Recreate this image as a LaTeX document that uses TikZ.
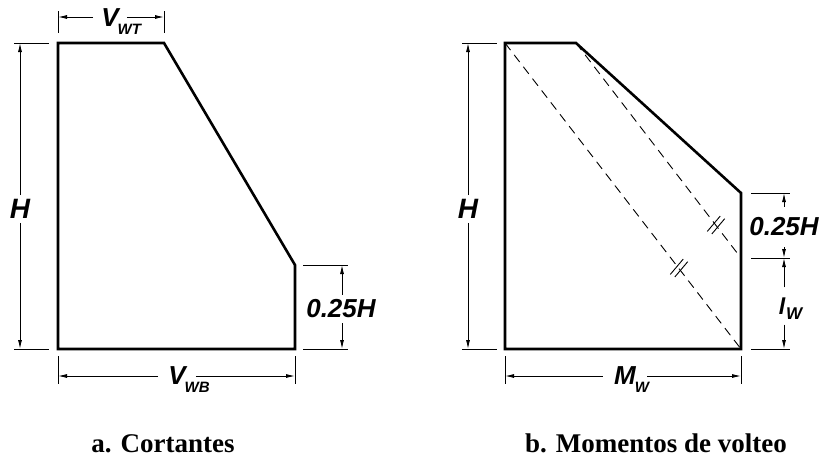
\documentclass[tikz,border=0pt]{standalone}
\usepackage{fontspec}
\setmainfont{Liberation Serif}
\newfontfamily\labfont{Liberation Sans}
\usetikzlibrary{arrows.meta}
\newcommand\subl[3]{\rlap{\kern#1pt\raisebox{-#2pt}[0pt][0pt]{\fontsize{15}{15}\selectfont #3}}}
\begin{document}
\begin{tikzpicture}[x=1pt,y=-1pt,
  outline/.style={line width=2.6pt, line join=miter},
  ext/.style={line width=0.9pt},
  dim/.style={line width=0.9pt, -{Latex[length=9pt,width=4pt]}},
  lab/.style={font=\labfont\bfseries\itshape\fontsize{26}{26}\selectfont, inner sep=0pt},
  labH/.style={font=\labfont\bfseries\itshape\fontsize{28}{28}\selectfont, inner xsep=0pt, inner ysep=4pt},
  caption/.style={font=\bfseries\fontsize{27}{27}\selectfont, inner sep=0pt, anchor=base},
  hid/.style={line width=0.9pt, dash pattern=on 9pt off 6pt},
  tickmark/.style={line width=0.9pt}]
\useasboundingbox (0,0) rectangle (824,463);

% ---------- a. Cortantes ----------
\coordinate (a1) at (58,43);
\coordinate (a2) at (164,43);
\coordinate (a3) at (295,265);
\coordinate (a4) at (295,349);
\coordinate (a5) at (58,349);
\draw[outline] (a1) -- (a2) -- (a3) -- (a4) -- (a5) -- cycle;

% H (left)
\draw[ext] (14,43) -- (49,43);
\draw[ext] (14,349) -- (49,349);
\coordinate (hLt) at (20,43);
\coordinate (hLb) at (20,349);
\node[labH] (hL) at (20,209) {H};
\draw[dim] (hL.north) -- (hLt);
\draw[dim] (hL.south) -- (hLb);

% V_WT
\draw[ext] (58,11) -- (58,33);
\draw[ext] (164,11) -- (164,33);
\coordinate (vtl) at (58,17);
\coordinate (vtr) at (164,17);
\node[lab, inner xsep=8pt] (vwt) at (110,18) {V\subl{-1}{8}{WT}};
\draw[dim] (vwt.west |- vtl) -- (vtl);
\draw[dim] (vwt.east |- vtr) -- (vtr);

% 0.25H (left)
\draw[ext] (303,265) -- (348,265);
\draw[ext] (303,349) -- (348,349);
\coordinate (q1t) at (342,265);
\coordinate (q1b) at (342,349);
\node[lab, inner ysep=5pt] (q1) at (341,309) {0.25H};
\draw[dim] (q1.north -| q1t) -- (q1t);
\draw[dim] (q1.south -| q1b) -- (q1b);

% V_WB
\draw[ext] (58,356) -- (58,384);
\draw[ext] (295,356) -- (295,384);
\coordinate (vbl) at (58,376);
\coordinate (vbr) at (295,376);
\node[lab, inner xsep=10pt] (vwb) at (177,376) {V\subl{-1}{8}{WB}};
\draw[dim] (vwb.west |- vbl) -- (vbl);
\draw[dim] (vwb.east |- vbr) -- (vbr);

\node[caption] (ca) at (163,452) {a. Cortantes};

% ---------- b. Momentos de volteo ----------
\coordinate (b1) at (505,43);
\coordinate (b2) at (576,43);
\coordinate (b3) at (741,193);
\coordinate (b4) at (741,349);
\coordinate (b5) at (505,349);
\coordinate (b6) at (741,258);
\draw[hid] (b1) -- (b4);
\draw[hid] (b2) -- (b6);
\draw[outline] (b1) -- (b2) -- (b3) -- (b4) -- (b5) -- cycle;

% tick marks
\draw[tickmark] (707.3,231.4) -- (720.2,216.1);
\draw[tickmark] (711.8,234.0) -- (724.7,218.7);
\draw[tickmark] (670.3,274.4) -- (683.2,259.1);
\draw[tickmark] (674.8,277.0) -- (687.7,261.7);

% H (right)
\draw[ext] (462,43) -- (497,43);
\draw[ext] (462,349) -- (497,349);
\coordinate (hRt) at (468,43);
\coordinate (hRb) at (468,349);
\node[labH] (hR) at (468,209) {H};
\draw[dim] (hR.north) -- (hRt);
\draw[dim] (hR.south) -- (hRb);

% right dimensions
\draw[ext] (751,193) -- (790,193);
\draw[ext] (751,258) -- (790,258);
\draw[ext] (751,349) -- (790,349);
\coordinate (q2t) at (784,193);
\coordinate (q2b) at (784,258);
\coordinate (lwt) at (784,258);
\coordinate (lwb) at (784,349);
\node[lab, inner ysep=11pt] (q2) at (784,227) {0.25H};
\draw[dim] (q2.north -| q2t) -- (q2t);
\draw[dim] (q2.south -| q2b) -- (q2b);
\node[lab, font=\labfont\bfseries\itshape\fontsize{23}{23}\selectfont, inner ysep=10pt] (lw) at (782,306) {l\rlap{\kern1pt\raisebox{-5pt}[0pt][0pt]{\fontsize{17}{17}\selectfont W}}};
\draw[dim] (lw.north -| lwt) -- (lwt);
\draw[dim] (lw.south -| lwb) -- (lwb);

% M_W
\draw[ext] (505,356) -- (505,384);
\draw[ext] (741,356) -- (741,384);
\coordinate (mbl) at (505,376);
\coordinate (mbr) at (741,376);
\node[lab, inner xsep=11pt] (mw) at (625,376) {M\subl{-1}{8}{W}};
\draw[dim] (mw.west |- mbl) -- (mbl);
\draw[dim] (mw.east |- mbr) -- (mbr);

\node[caption] (cb) at (656,452) {b. Momentos de volteo};
\end{tikzpicture}
\end{document}
